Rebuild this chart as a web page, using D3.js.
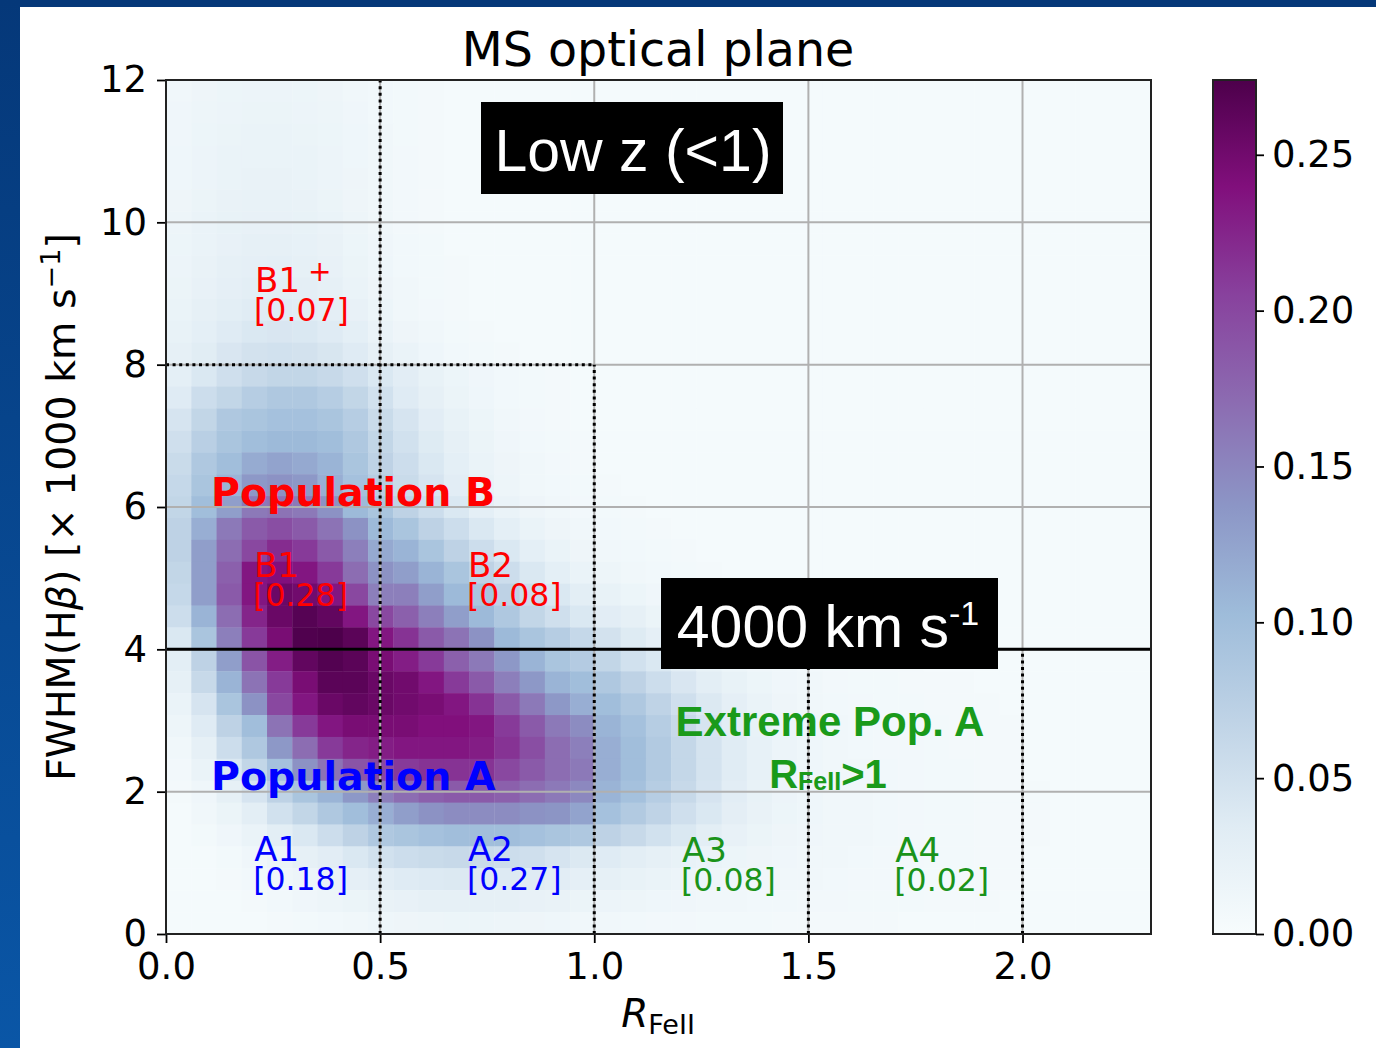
<!DOCTYPE html>
<html lang="en">
<head>
<meta charset="UTF-8">
<title>MS optical plane</title>
<script src="https://d3js.org/d3.v7.min.js"></script>
<style>
    body { margin: 0; background: #ffffff; }
    svg { display: block; font-family: "DejaVu Sans", sans-serif; }
    .tick text { font-family: "DejaVu Sans", sans-serif; fill: #000; }
    .tick line { stroke: #000; stroke-width: 1.8px; }
</style>
</head>
<body>
<svg id="canvas" width="1376" height="1048"></svg>
<script>
    // density grid: 39 x 39 cells, rows listed from FWHM=12 (top) down to 0,
    // columns from RFeII=0 to 2.3, values in units of 1e-3
    const densityRows = [
        [11,14,16,17,17,16,14,11,9,7, 6,5,5,5,5,5,5,5,5,5, 5,5,5,5,5,5,5,5,5,5, 5,5,5,5,5,5,5,5,5],
        [12,15,17,18,18,17,15,12,9,7, 6,5,5,5,5,5,5,5,5,5, 5,5,5,5,5,5,5,5,5,5, 5,5,5,5,5,5,5,5,5],
        [12,16,18,19,19,18,16,13,10,7, 6,5,5,5,5,5,5,5,5,5, 5,5,5,5,5,5,5,5,5,5, 5,5,5,5,5,5,5,5,5],
        [13,17,19,20,20,19,17,13,10,8, 6,5,5,5,5,5,5,5,5,5, 5,5,5,5,5,5,5,5,5,5, 5,5,5,5,5,5,5,5,5],
        [13,17,20,21,21,20,17,14,10,8, 6,5,5,5,5,5,5,5,5,5, 5,5,5,5,5,5,5,5,5,5, 5,5,5,5,5,5,5,5,5],
        [14,18,21,22,22,21,18,14,11,8, 6,5,5,5,5,5,5,5,5,5, 5,5,5,5,5,5,5,5,5,5, 5,5,5,5,5,5,5,5,5],
        [15,19,22,23,23,22,19,15,11,8, 6,5,5,5,5,5,5,5,5,5, 5,5,5,5,5,5,5,5,5,5, 5,5,5,5,5,5,5,5,5],
        [16,20,23,25,25,24,21,16,12,9, 7,5,5,5,5,5,5,5,5,5, 5,5,5,5,5,5,5,5,5,5, 5,5,5,5,5,5,5,5,5],
        [17,21,25,27,28,26,23,18,13,9, 7,6,5,5,5,5,5,5,5,5, 5,5,5,5,5,5,5,5,5,5, 5,5,5,5,5,5,5,5,5],
        [18,23,27,30,31,29,25,20,14,10, 7,6,5,5,5,5,5,5,5,5, 5,5,5,5,5,5,5,5,5,5, 5,5,5,5,5,5,5,5,5],
        [20,25,30,34,35,33,29,23,16,11, 8,6,5,5,5,5,5,5,5,5, 5,5,5,5,5,5,5,5,5,5, 5,5,5,5,5,5,5,5,5],
        [22,28,35,40,42,40,35,28,20,14, 10,7,6,5,5,5,5,5,5,5, 5,5,5,5,5,5,5,5,5,5, 5,5,5,5,5,5,5,5,5],
        [25,33,42,48,50,48,43,35,26,19, 13,9,7,6,5,5,5,5,5,5, 5,5,5,5,5,5,5,5,5,5, 5,5,5,5,5,5,5,5,5],
        [28,40,52,60,65,65,60,52,40,32, 22,16,12,9,7,6,5,5,5,5, 5,5,5,5,5,5,5,5,5,5, 5,5,5,5,5,5,5,5,5],
        [35,55,65,78,85,85,78,65,50,35, 25,18,13,9,7,6,5,5,5,5, 5,5,5,5,5,5,5,5,5,5, 5,5,5,5,5,5,5,5,5],
        [45,65,85,90,95,95,90,78,58,45, 32,22,16,11,8,6,5,5,5,5, 5,5,5,5,5,5,5,5,5,5, 5,5,5,5,5,5,5,5,5],
        [52,75,90,100,105,105,100,85,65,50, 36,25,18,12,9,7,6,5,5,5, 5,5,5,5,5,5,5,5,5,5, 5,5,5,5,5,5,5,5,5],
        [58,85,100,118,125,120,110,90,70,55, 40,28,20,14,10,8,6,5,5,5, 5,5,5,5,5,5,5,5,5,5, 5,5,5,5,5,5,5,5,5],
        [62,90,110,135,140,135,115,95,78,58, 45,32,22,15,11,9,7,6,5,5, 5,5,5,5,5,5,5,5,5,5, 5,5,5,5,5,5,5,5,5],
        [65,100,130,160,165,160,140,105,90,70, 55,40,28,20,14,10,8,7,6,5, 5,5,5,5,5,5,5,5,5,5, 5,5,5,5,5,5,5,5,5],
        [70,115,160,185,195,185,165,140,105,90, 70,55,40,28,20,14,11,9,7,6, 5,5,5,5,5,5,5,5,5,5, 5,5,5,5,5,5,5,5,5],
        [70,130,170,200,220,210,185,155,120,110, 90,70,55,40,28,20,14,11,9,7, 6,5,5,5,5,5,5,5,5,5, 5,5,5,5,5,5,5,5,5],
        [65,130,180,235,240,235,210,170,140,130, 110,90,70,55,40,28,20,15,11,9, 7,6,5,5,5,5,5,5,5,5, 5,5,5,5,5,5,5,5,5],
        [62,130,185,235,255,250,235,200,155,155, 130,105,90,70,55,40,30,22,16,12, 9,7,6,5,5,5,5,5,5,5, 5,5,5,5,5,5,5,5,5],
        [55,110,170,225,255,268,260,235,200,180, 155,130,105,85,65,52,40,32,25,18, 13,10,8,6,5,5,5,5,5,5, 5,5,5,5,5,5,5,5,5],
        [40,90,155,210,245,272,274,265,235,215, 185,165,140,105,90,78,62,48,36,27, 20,15,11,9,7,6,5,5,5,5, 5,5,5,5,5,5,5,5,5],
        [30,70,130,190,230,260,270,265,245,230, 210,180,160,135,110,90,80,65,50,40, 30,22,16,12,10,8,7,6,6,6, 5,5,5,5,5,5,5,5,5],
        [25,60,110,165,210,245,265,265,255,250, 235,210,185,155,135,110,100,85,70,55, 42,30,22,16,12,10,8,7,7,6, 6,6,5,5,5,5,5,5,5],
        [20,45,90,140,200,235,255,260,255,250, 245,235,215,185,160,135,115,100,85,68, 52,38,27,19,14,11,9,8,7,7, 6,6,6,5,5,5,5,5,5],
        [15,35,70,100,165,210,235,245,245,245, 240,240,235,210,185,160,145,110,95,78, 60,45,32,22,16,12,10,9,8,7, 7,6,6,6,5,5,5,5,5],
        [10,25,55,85,135,170,210,225,230,235, 235,235,230,215,195,170,155,115,100,82, 63,47,34,24,17,13,11,9,8,8, 7,6,6,6,5,5,5,5,5],
        [8,20,40,65,95,140,165,190,200,210, 215,215,215,200,185,170,160,115,100,82, 63,47,34,24,17,13,11,10,9,8, 7,7,6,6,5,5,5,5,5],
        [6,12,25,45,70,90,110,135,155,170, 180,185,185,180,170,160,148,110,95,78, 60,45,32,22,17,13,11,10,9,8, 7,7,6,6,6,5,5,5,5],
        [5,10,18,30,50,65,85,100,115,130, 140,145,145,145,140,138,125,95,82,68, 52,40,29,21,16,13,11,10,9,8, 7,7,6,6,6,5,5,5,5],
        [5,7,12,20,30,40,55,70,85,90, 95,100,100,100,95,90,85,70,60,50, 40,30,23,18,14,12,11,10,9,8, 7,7,6,6,6,5,5,5,5],
        [5,5,7,12,18,25,32,40,50,55, 58,60,58,55,52,45,38,35,30,26, 22,19,16,14,12,11,10,9,8,8, 7,7,6,6,5,5,5,5,5],
        [5,5,6,9,13,17,22,27,32,35, 37,38,38,37,35,32,27,25,22,19, 17,15,13,12,11,10,9,8,8,7, 7,6,6,6,5,5,5,5,5],
        [5,5,5,6,9,12,15,18,21,23, 25,26,26,25,23,21,18,17,15,13, 12,11,10,9,9,8,8,7,7,7, 6,6,6,5,5,5,5,5,5],
        [5,5,5,5,6,7,9,11,13,14, 15,16,16,15,14,13,11,10,9,8, 8,7,7,7,6,6,6,6,6,5, 5,5,5,5,5,5,5,5,5]
    ];
    const rfeRange = [0, 2.3];
    const fwhmRange = [0, 12];
    const colorMax = 0.274;

    const xTicks = [0.0, 0.5, 1.0, 1.5, 2.0];
    const yTicks = [0, 2, 4, 6, 8, 10, 12];
    const cbarTicks = [0.00, 0.05, 0.10, 0.15, 0.20, 0.25];

    // region boundaries of the optical plane [x1, y1, x2, y2] in data units
    const dottedBounds = [
        [0.5, 0, 0.5, 12],
        [1.0, 0, 1.0, 8],
        [0, 8, 1.0, 8],
        [1.5, 0, 1.5, 4],
        [2.0, 0, 2.0, 4]
    ];
    const fwhmSplit = 4;

    // spectral bins and their fractions
    const binNames = ["B1", "B1", "B2", "A1", "A2", "A3", "A4"];
    const binSup = ["+", "", "", "", "", "", ""];
    const binFractions = ["[0.07]", "[0.28]", "[0.08]", "[0.18]", "[0.27]", "[0.08]", "[0.02]"];
    const binColors = ["#ff0000", "#ff0000", "#ff0000", "#0000ff", "#0000ff", "#1a931a", "#1a931a"];

    let svg = d3.select("#canvas");

    // blue slide frame
    let defs = svg.append("defs");
    let frameGrad = defs.append("linearGradient").attr("id", "frameGrad")
        .attr("x1", 0).attr("y1", 0).attr("x2", 0).attr("y2", 1);
    frameGrad.append("stop").attr("offset", "0%").attr("stop-color", "#053879");
    frameGrad.append("stop").attr("offset", "100%").attr("stop-color", "#0a56a6");
    svg.append("rect").attr("x", 0).attr("y", 0).attr("width", 1376).attr("height", 7).attr("fill", "#053879");
    svg.append("rect").attr("x", 0).attr("y", 0).attr("width", 20).attr("height", 1048).attr("fill", "url(#frameGrad)");

    let x = d3.scaleLinear().domain(rfeRange).range([166, 1151]);
    let y = d3.scaleLinear().domain(fwhmRange).range([934, 80]);

    let nRows = densityRows.length, nCols = densityRows[0].length;
    let dx = (rfeRange[1] - rfeRange[0]) / nCols;
    let dy = (fwhmRange[1] - fwhmRange[0]) / nRows;

    let bupu = d3.schemeBuPu[9];
    let color = d3.scaleLinear()
        .domain(bupu.map((c, i) => colorMax * i / (bupu.length - 1)))
        .range(bupu)
        .clamp(true);

    // heatmap cells
    let cells = [];
    densityRows.forEach((row, r) => {
        row.forEach((v, c) => {
            cells.push({ col: c, row: nRows - 1 - r, value: v / 1000 });
        });
    });
    svg.append("g").selectAll("rect")
        .data(cells)
        .join("rect")
        .attr("x", d => x(d.col * dx))
        .attr("y", d => y((d.row + 1) * dy))
        .attr("width", x(dx) - x(0) + 0.4)
        .attr("height", y(0) - y(dy) + 0.4)
        .attr("fill", d => color(d.value));

    // grid
    let grid = svg.append("g").attr("stroke", "#b0b0b0").attr("stroke-width", 2);
    grid.selectAll("line.vx").data(xTicks.filter(t => t > 0)).join("line")
        .attr("x1", d => x(d)).attr("x2", d => x(d)).attr("y1", y(0)).attr("y2", y(12));
    grid.selectAll("line.hy").data(yTicks.filter(t => t > 0 && t < 12)).join("line")
        .attr("x1", x(0)).attr("x2", x(2.3)).attr("y1", d => y(d)).attr("y2", d => y(d));

    // dotted boundaries and the 4000 km/s split
    svg.append("g").selectAll("line").data(dottedBounds).join("line")
        .attr("x1", d => x(d[0])).attr("y1", d => y(d[1]))
        .attr("x2", d => x(d[2])).attr("y2", d => y(d[3]))
        .attr("stroke", "#000").attr("stroke-width", 3)
        .attr("stroke-dasharray", "3,3.6");
    svg.append("line")
        .attr("x1", x(0)).attr("x2", x(2.3)).attr("y1", y(fwhmSplit)).attr("y2", y(fwhmSplit))
        .attr("stroke", "#000").attr("stroke-width", 3);

    // axes
    let xAxis = svg.append("g").attr("transform", `translate(0,${y(0)})`)
        .call(d3.axisBottom(x).tickValues(xTicks).tickFormat(d3.format(".1f")).tickSize(9).tickPadding(10));
    let yAxis = svg.append("g").attr("transform", `translate(${x(0)},0)`)
        .call(d3.axisLeft(y).tickValues(yTicks).tickFormat(d3.format("d")).tickSize(9).tickPadding(10));
    [xAxis, yAxis].forEach(a => {
        a.select(".domain").remove();
        a.selectAll(".tick text").style("font-size", "37px");
    });
    svg.append("rect")
        .attr("x", x(0)).attr("y", y(12))
        .attr("width", x(2.3) - x(0)).attr("height", y(0) - y(12))
        .attr("fill", "none").attr("stroke", "#222").attr("stroke-width", 2);

    // bin labels
    let binAnchors = [[0.208, 9.02], [0.206, 5.02], [0.705, 5.02], [0.206, 1.03], [0.705, 1.03], [1.205, 1.01], [1.703, 1.01]];
    binNames.forEach((name, i) => {
        let ax = x(binAnchors[i][0]), ay = y(binAnchors[i][1]);
        let t = svg.append("text").attr("x", ax).attr("y", ay)
            .attr("fill", binColors[i]).style("font-size", "34px").text(name);
        if (binSup[i]) {
            t.append("tspan").attr("dx", 8).attr("dy", -11).style("font-size", "28px").text(binSup[i]);
        }
        svg.append("text").attr("x", ax - 1).attr("y", ay + 29)
            .attr("fill", binColors[i]).style("font-size", "31.5px").text(binFractions[i]);
    });

    svg.append("text").attr("x", x(0.105)).attr("y", y(6.02))
        .attr("fill", "#ff0000").style("font-size", "39.5px").style("font-weight", "bold")
        .text("Population B");
    svg.append("text").attr("x", x(0.105)).attr("y", y(2.03))
        .attr("fill", "#0000ff").style("font-size", "39.5px").style("font-weight", "bold")
        .text("Population A");

    let extreme = svg.append("g")
        .style("font-family", "'Liberation Sans', Arial, sans-serif").style("font-weight", "bold")
        .attr("fill", "#1a9a1a").attr("text-anchor", "middle");
    extreme.append("text").attr("x", 830).attr("y", 736).style("font-size", "42px").text("Extreme Pop. A");
    let rf = extreme.append("text").attr("x", 828).attr("y", 788).style("font-size", "40px");
    rf.append("tspan").text("R");
    rf.append("tspan").attr("dy", 2).style("font-size", "25px").text("FeII");
    rf.append("tspan").attr("dy", -2).text(">1");

    // black label boxes
    let boxFont = "'Liberation Sans', Arial, sans-serif";
    svg.append("rect").attr("x", 481).attr("y", 102).attr("width", 302).attr("height", 92).attr("fill", "#000");
    svg.append("text").attr("x", 633).attr("y", 171).attr("text-anchor", "middle")
        .attr("fill", "#fff").style("font-family", boxFont).style("font-size", "59px").text("Low z (<1)");

    svg.append("rect").attr("x", 661).attr("y", 578).attr("width", 337).attr("height", 91).attr("fill", "#000");
    let kms = svg.append("text").attr("x", 828).attr("y", 647).attr("text-anchor", "middle")
        .attr("fill", "#fff").style("font-family", boxFont).style("font-size", "59px");
    kms.append("tspan").text("4000 km s");
    kms.append("tspan").attr("dy", -22).style("font-size", "34px").text("-1");

    // title and axis labels
    svg.append("text").attr("x", 658).attr("y", 66).attr("text-anchor", "middle")
        .style("font-size", "47.5px").text("MS optical plane");

    let xl = svg.append("text").attr("x", 658).attr("y", 1027).attr("text-anchor", "middle").style("font-size", "39px");
    xl.append("tspan").style("font-style", "italic").text("R");
    xl.append("tspan").attr("dy", 7).style("font-size", "27px").text("FeII");

    let yl = svg.append("text").attr("transform", "translate(75,507) rotate(-90)")
        .attr("text-anchor", "middle").style("font-size", "39.5px");
    yl.append("tspan").text("FWHM(H");
    yl.append("tspan").style("font-style", "italic").text("β");
    yl.append("tspan").text(") [× 1000 km s");
    yl.append("tspan").attr("dy", -15).style("font-size", "27px").text("−1");
    yl.append("tspan").attr("dy", 15).text("]");

    // colorbar
    let cbar = d3.scaleLinear().domain([0, colorMax]).range([934, 80]);
    let cbGrad = defs.append("linearGradient").attr("id", "cbGrad")
        .attr("x1", 0).attr("y1", 1).attr("x2", 0).attr("y2", 0);
    bupu.forEach((c, i) => {
        cbGrad.append("stop").attr("offset", (100 * i / (bupu.length - 1)) + "%").attr("stop-color", c);
    });
    svg.append("rect").attr("x", 1213).attr("y", cbar(colorMax)).attr("width", 43)
        .attr("height", cbar(0) - cbar(colorMax))
        .attr("fill", "url(#cbGrad)").attr("stroke", "#222").attr("stroke-width", 2);
    let cAxis = svg.append("g").attr("transform", "translate(1256,0)")
        .call(d3.axisRight(cbar).tickValues(cbarTicks).tickFormat(d3.format(".2f")).tickSize(8).tickPadding(8));
    cAxis.select(".domain").remove();
    cAxis.selectAll(".tick text").style("font-size", "37px");
</script>
</body>
</html>
